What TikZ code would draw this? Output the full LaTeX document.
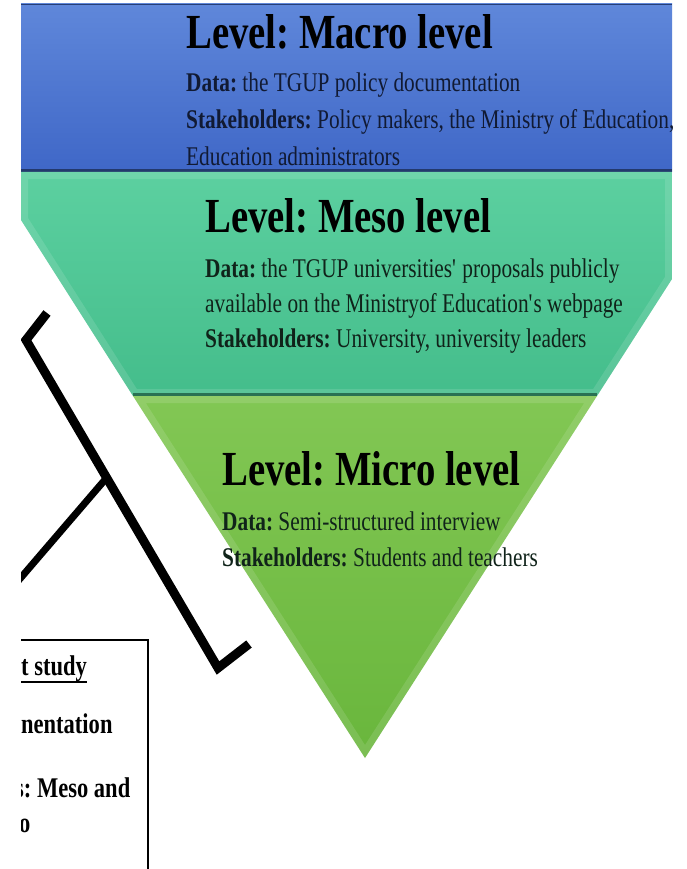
\documentclass[tikz,border=0pt]{standalone}
\usepackage{fontspec}
\setmainfont{Liberation Serif}[FakeStretch=0.79]
\usetikzlibrary{calc}
\frenchspacing

\definecolor{macrotop}{HTML}{5F87DA}
\definecolor{macrobot}{HTML}{3F67C7}
\definecolor{mesotop}{HTML}{5CD0A0}
\definecolor{mesobot}{HTML}{44BD8B}
\definecolor{microtop}{HTML}{82C754}
\definecolor{microbot}{HTML}{69B63C}
\definecolor{inkblue}{HTML}{111A33}
\definecolor{inkgreen}{HTML}{10231A}

\tikzset{
  head/.style={anchor=base west, inner sep=0pt, text=black,
    font=\fontsize{49}{55}\selectfont\bfseries},
  txt/.style={anchor=base west, inner sep=0pt,
    font=\fontsize{27}{32}\selectfont},
  boxtxt/.style={anchor=base west, inner sep=0pt,
    font=\fontsize{28.5}{32}\selectfont\bfseries},
  rim/.style={line width=14pt, draw=white, draw opacity=0.12},
  edge/.style={line width=3pt, line cap=butt},
  bracket/.style={line width=9pt, line join=miter, line cap=butt},
}

\begin{document}
\begin{tikzpicture}[x=1pt,y=-1pt]
  \useasboundingbox[fill=white] (0,0) rectangle (687,869);
  \begin{scope}
    \clip (21,4) rectangle (672,869);

    % corners of the three levels
    \coordinate (mesoL) at (21,220);
    \coordinate (mesoR) at (672,279);
    \coordinate (microL) at (133,396);
    \coordinate (microR) at (597,396);
    \coordinate (apex) at (365,758);

    % macro level
    \shade[top color=macrotop, bottom color=macrobot] (21,4) rectangle (672,172);
    \draw[line width=1.5pt, macrobot!60!black] (21,4.5) -- (672,4.5);
    \draw[edge, macrobot!55!black] (21,170.5) -- (672,170.5);

    % meso level
    \shade[top color=mesotop, bottom color=mesobot]
      (21,172) -- (672,172) -- (mesoR) -- (microR) -- (microL) -- (mesoL) -- cycle;
    \begin{scope}
      \clip (21,172) -- (672,172) -- (mesoR) -- (microR) -- (microL) -- (mesoL) -- cycle;
      \draw[rim] (21,172) -- (672,172) -- (mesoR) -- (microR) -- (microL) -- (mesoL) -- cycle;
    \end{scope}
    \draw[edge, mesobot!60!black] ($(microL)+(0,-1.5)$) -- ($(microR)+(0,-1.5)$);

    % micro level
    \shade[top color=microtop, bottom color=microbot] (microL) -- (microR) -- (apex) -- cycle;
    \begin{scope}
      \clip (microL) -- (microR) -- (apex) -- cycle;
      \draw[rim] (microL) -- (microR) -- (apex) -- cycle;
    \end{scope}

    % texts
    \node[head] (macroHead) at (186,49) {Level: Macro level};
    \node[txt, text=inkblue] (macroData) at (186,92) {\textbf{Data:} the TGUP policy documentation};
    \node[txt, text=inkblue] (macroStake) at (186,129) {\textbf{Stakeholders:} Policy makers, the Ministry of Education,};
    \node[txt, text=inkblue] (macroStakeB) at (186,166) {Education administrators};

    \node[head] (mesoHead) at (205,232) {Level: Meso level};
    \node[txt, text=inkgreen] (mesoData) at (205,277) {\textbf{Data:} the TGUP universities\textquotesingle{} proposals publicly};
    \node[txt, text=inkgreen] (mesoDataB) at (205,312) {available on the Ministryof Education\textquotesingle s webpage};
    \node[txt, text=inkgreen] (mesoStake) at (205,347) {\textbf{Stakeholders:} University, university leaders};

    \node[head] (microHead) at (222,485) {Level: Micro level};
    \node[txt, text=inkgreen] (microData) at (222,530) {\textbf{Data:} Semi-structured interview};
    \node[txt, text=inkgreen] (microStake) at (222,566) {\textbf{Stakeholders:} Students and teachers};

    % bracket
    \coordinate (brTop) at (47,313);
    \coordinate (brUp) at (26,340);
    \coordinate (brLow) at (218,668);
    \coordinate (brEnd) at (249,644);
    \coordinate (brJoint) at ($(brUp)!0.42!(brLow)$);
    \coordinate (brTail) at (0,602);
    \draw[bracket] (brTop) -- (brUp) -- (brLow) -- (brEnd);
    \draw[line width=7pt] (brJoint) -- (brTail);

    % box of the study
    \draw[line width=2.5pt] (0,640) -- (148,640) -- (148,880);
    \node[boxtxt] (boxTitle) at (21,675) {t study};
    \draw[line width=2pt] ([yshift=-7pt]boxTitle.base west) -- ([yshift=-7pt]boxTitle.base east);
    \node[boxtxt] (boxData) at (21,733) {nentation};
    \node[boxtxt] (boxLevel) at (15,797) {s: Meso and};
    \node[boxtxt] (boxLevelB) at (19,832) {o};
  \end{scope}
\end{tikzpicture}
\end{document}
